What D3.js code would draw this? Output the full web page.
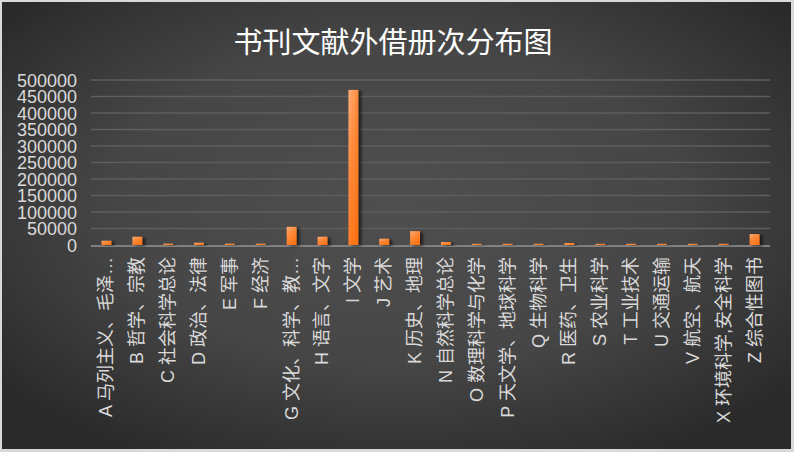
<!DOCTYPE html>
<html><head><meta charset="utf-8">
<script src="https://cdn.jsdelivr.net/npm/d3@7"></script>
<style>body{margin:0;background:#d9d9d9}svg{display:block}</style>
</head><body>
<svg id="c" width="794" height="452"></svg>
<script>
const categories = ["A 马列主义、毛泽…","B 哲学、宗教","C 社会科学总论","D 政治、法律","E 军事","F 经济","G 文化、科学、教…","H 语言、文字","I 文学","J 艺术","K 历史、地理","N 自然科学总论","O 数理科学与化学","P 天文学、地球科学","Q 生物科学","R 医药、卫生","S 农业科学","T 工业技术","U 交通运输","V 航空、航天","X 环境科学,安全科学","Z 综合性图书"];
const values = [13000,25000,4000,7000,4000,4000,55000,25000,470000,19000,42000,9000,3500,3500,3500,6000,3500,3500,3500,3500,3500,33000];
const yTicks = [0,50000,100000,150000,200000,250000,300000,350000,400000,450000,500000];
const title = "书刊文献外借册次分布图";

const svg = d3.select("#c");
const defs = svg.append("defs");
const bg = defs.append("radialGradient").attr("id","bg").attr("cx","50%").attr("cy","45%").attr("r","65%");
bg.append("stop").attr("offset","0%").attr("stop-color","#4f4f4f");
bg.append("stop").attr("offset","55%").attr("stop-color","#464646");
bg.append("stop").attr("offset","100%").attr("stop-color","#2a2a2a");
const bar = defs.append("linearGradient").attr("id","bar").attr("x1","0").attr("y1","0").attr("x2","0.6").attr("y2","1");
bar.append("stop").attr("offset","0%").attr("stop-color","#ffae78");
bar.append("stop").attr("offset","45%").attr("stop-color","#ff8a3c");
bar.append("stop").attr("offset","100%").attr("stop-color","#ff7417");
const f = defs.append("filter").attr("id","sh").attr("x","-50%").attr("y","-10%").attr("width","250%").attr("height","130%");
f.append("feDropShadow").attr("dx",3).attr("dy",1).attr("stdDeviation",1.6).attr("flood-color","#000").attr("flood-opacity",0.6);

svg.append("rect").attr("x",2).attr("y",2).attr("width",789).attr("height",447).attr("fill","url(#bg)");

svg.append("text").attr("x",393).attr("y",40).attr("text-anchor","middle").attr("dominant-baseline","central")
  .attr("fill","#ffffff").attr("font-size",29).attr("font-family","'Noto Sans CJK SC','Microsoft YaHei',sans-serif").text(title);

const x = d3.scaleBand().domain(categories).range([91,770]).paddingInner(0.68).paddingOuter(0.34);
const y = d3.scaleLinear().domain([0,500000]).range([245,80]);

const grid = svg.append("g");
grid.selectAll("line").data(yTicks.filter(d=>d>0)).join("line")
  .attr("x1",91).attr("x2",770).attr("y1",d=>y(d)).attr("y2",d=>y(d))
  .attr("stroke","#5e5e5e").attr("stroke-width",1.5);

svg.append("line").attr("x1",91).attr("x2",770).attr("y1",y(0)+1).attr("y2",y(0)+1).attr("stroke","#808080").attr("stroke-width",2);

const yAxis = d3.axisLeft(y).tickValues(yTicks).tickSize(0).tickPadding(0).tickFormat(d3.format("d"));
const ya = svg.append("g").attr("transform","translate(77,0)").call(yAxis);
ya.select(".domain").remove();
ya.selectAll("text").attr("fill","#d9d9d9").attr("font-size",18).attr("font-family","'Liberation Sans',Arial,sans-serif").attr("dy","0.36em");

svg.append("g").selectAll("rect").data(values).join("rect")
  .attr("x",(d,i)=>x(categories[i])).attr("width",x.bandwidth())
  .attr("y",d=>y(d)).attr("height",d=>y(0)-y(d))
  .attr("fill","url(#bar)").attr("filter","url(#sh)");

const xAxis = d3.axisBottom(x).tickSize(0).tickPadding(0);
const xa = svg.append("g").attr("transform","translate(0,"+y(0)+")").call(xAxis);
xa.select(".domain").remove();
xa.selectAll("text").attr("fill","#d9d9d9").attr("font-size",18)
  .attr("font-family","'Liberation Sans','Noto Sans CJK SC',sans-serif")
  .attr("text-anchor","end").attr("dy",null).attr("y",0).attr("x",0)
  .attr("dominant-baseline","central")
  .attr("transform","translate(0,12) rotate(-90)");
</script>
</body></html>
